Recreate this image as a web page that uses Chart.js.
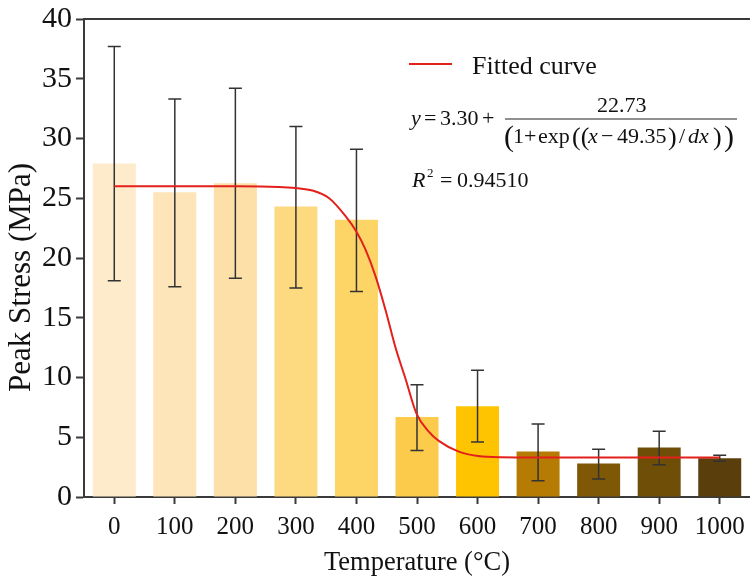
<!DOCTYPE html>
<html>
<head>
<meta charset="utf-8">
<script src="https://cdn.jsdelivr.net/npm/chart.js@4.4.1/dist/chart.umd.min.js"></script>
<style>
  html, body { margin: 0; padding: 0; background: #ffffff; overflow: hidden; }
  canvas { display: block; }
</style>
</head>
<body>
<canvas id="c" width="750" height="581" style="width:750px;height:581px"></canvas>
<script>
// ---- data ----
const categories = ['0', '100', '200', '300', '400', '500', '600', '700', '800', '900', '1000'];
const peakStress = [27.9, 25.5, 26.25, 24.3, 23.2, 6.7, 7.6, 3.8, 2.8, 4.15, 3.25];
const errUpper   = [37.7, 33.3, 34.2, 31.0, 29.1, 9.4, 10.6, 6.1, 4.0, 5.5, 3.5];
const errLower   = [18.1, 17.6, 18.3, 17.5, 17.2, 3.9, 4.6, 1.35, 1.5, 2.7, 3.0];
const barColors  = ['#FDEBCB', '#FDE5B9', '#FCE0A7', '#FDDA80', '#FDD466', '#FDCB4C',
                    '#FEC402', '#B67B02', '#7E5807', '#6F4E08', '#5A3F0C'];
// fitted curve, points (temperature °C, MPa)
const fitTemps  = [0, 100, 200, 272, 300, 327, 355, 382, 400, 415, 432, 448, 464, 481, 499, 519, 536, 569, 601, 639, 700, 800, 900, 1000];
const fitValues = [26.0, 26.0, 26.0, 25.95, 25.85, 25.65, 25.0, 23.5, 22.2, 20.7, 18.4, 15.65, 12.6, 9.9, 7.0, 5.5, 4.7, 3.8, 3.43, 3.32, 3.3, 3.3, 3.3, 3.3];
const yTicksMin = 0, yTicksMax = 40, yTickStep = 5;

const SERIF = '"Liberation Serif", "Times New Roman", serif';
const AXIS_COLOR = '#3a3a3a';

const fitPoints = fitTemps.map((t, i) => ({ x: t, y: fitValues[i] }));

const errorBarPlugin = {
  id: 'errorBars',
  afterDatasetDraw(chart, args) {
    if (args.index !== 0) return;
    const ctx = chart.ctx;
    const xs = chart.scales.x, ys = chart.scales.y;
    ctx.save();
    ctx.strokeStyle = '#333333';
    ctx.lineWidth = 1.5;
    const cap = 6.5;
    for (let i = 0; i < categories.length; i++) {
      const x = xs.getPixelForValue(i);
      const yH = ys.getPixelForValue(errUpper[i]);
      const yL = ys.getPixelForValue(errLower[i]);
      ctx.beginPath();
      ctx.moveTo(x, yH); ctx.lineTo(x, yL);
      ctx.moveTo(x - cap, yH); ctx.lineTo(x + cap, yH);
      ctx.moveTo(x - cap, yL); ctx.lineTo(x + cap, yL);
      ctx.stroke();
    }
    ctx.restore();
  }
};

const framePlugin = {
  id: 'frame',
  afterDraw(chart) {
    const ctx = chart.ctx, a = chart.chartArea;
    ctx.save();
    ctx.strokeStyle = AXIS_COLOR;
    ctx.lineWidth = 2;
    ctx.beginPath();
    ctx.moveTo(a.left, a.top);
    ctx.lineTo(a.right, a.top);
    ctx.stroke();
    ctx.restore();
  }
};

function txt(ctx, s, x, y, size, italic) {
  ctx.font = (italic ? 'italic ' : '') + size + 'px ' + SERIF;
  ctx.fillText(s, x, y);
}

const annotationPlugin = {
  id: 'legendEquation',
  afterDraw(chart) {
    const ctx = chart.ctx;
    ctx.save();
    // legend
    ctx.strokeStyle = '#E3201B';
    ctx.lineWidth = 2;
    ctx.beginPath(); ctx.moveTo(409, 64); ctx.lineTo(452, 64); ctx.stroke();
    ctx.fillStyle = '#111111';
    ctx.textBaseline = 'alphabetic';
    ctx.textAlign = 'left';
    txt(ctx, 'Fitted curve', 472, 74, 26, false);
    // equation
    const fs = 22;
    txt(ctx, 'y', 411, 125, fs, true);
    txt(ctx, '=', 424, 125, fs, false);
    txt(ctx, '3.30', 440, 125, fs, false);
    txt(ctx, '+', 482, 125, fs, false);
    txt(ctx, '22.73', 597, 112, fs, false);
    ctx.strokeStyle = '#222222';
    ctx.lineWidth = 1.2;
    ctx.beginPath(); ctx.moveTo(505, 119); ctx.lineTo(737, 119); ctx.stroke();
    const by = 143;
    txt(ctx, '(', 504, by + 3, 30, false);
    txt(ctx, '1', 513, by, fs, false);
    txt(ctx, '+', 524, by, fs, false);
    txt(ctx, 'exp', 538, by, fs, false);
    txt(ctx, '((', 572, by + 2, 26, false);
    txt(ctx, 'x', 588, by, fs, true);
    txt(ctx, '\u2212', 601, by, fs, false);
    txt(ctx, '49.35', 617, by, fs, false);
    txt(ctx, ')', 668, by + 2, 26, false);
    txt(ctx, '/', 679, by, fs, false);
    txt(ctx, 'dx', 688, by, fs, true);
    txt(ctx, ')', 713, by + 2, 26, false);
    txt(ctx, ')', 724, by + 3, 30, false);
    txt(ctx, 'R', 412, 187, fs, true);
    txt(ctx, '2', 427, 177, 13, false);
    txt(ctx, '=', 440, 187, fs, false);
    txt(ctx, '0.94510', 457, 187, fs, false);
    ctx.restore();
  }
};

new Chart(document.getElementById('c'), {
  type: 'bar',
  data: {
    labels: categories,
    datasets: [
      {
        type: 'bar',
        label: 'Peak Stress',
        data: peakStress,
        backgroundColor: barColors,
        borderWidth: 0,
        grouped: false,
        barPercentage: 0.71,
        categoryPercentage: 1.0,
        xAxisID: 'x',
        yAxisID: 'y',
        order: 2
      },
      {
        type: 'line',
        label: 'Fitted curve',
        data: fitPoints,
        borderColor: '#E3201B',
        borderWidth: 2,
        pointRadius: 0,
        fill: false,
        cubicInterpolationMode: 'monotone',
        xAxisID: 'xFit',
        yAxisID: 'y',
        order: 1
      }
    ]
  },
  options: {
    responsive: false,
    animation: false,
    devicePixelRatio: 1,
    layout: { padding: { top: 19, left: 0, right: 0, bottom: 0 } },
    plugins: {
      legend: { display: false },
      tooltip: { enabled: false },
      title: { display: false }
    },
    scales: {
      x: {
        type: 'category',
        offset: true,
        position: 'bottom',
        grid: { display: true, drawOnChartArea: false, offset: false, tickLength: 7, tickWidth: 2, tickColor: AXIS_COLOR },
        border: { display: true, color: AXIS_COLOR, width: 2 },
        ticks: { color: '#111', font: { family: SERIF, size: 25 }, padding: 8, maxRotation: 0, autoSkip: false },
        title: { display: true, text: 'Temperature (\u00B0C)', color: '#111', font: { family: SERIF, size: 26.5 }, padding: { top: 0, bottom: 2 } },
        afterFit(s) { s.height = 84; s.paddingLeft = 0; s.paddingRight = 0; }
      },
      xFit: {
        type: 'linear',
        display: false,
        offset: false,
        min: -50,
        max: 1050
      },
      y: {
        type: 'linear',
        min: yTicksMin,
        max: yTicksMax,
        ticks: { stepSize: yTickStep, color: '#111', font: { family: SERIF, size: 30 }, padding: 4 },
        grid: { display: true, drawOnChartArea: false, tickLength: 8, tickWidth: 2, tickColor: AXIS_COLOR },
        border: { display: true, color: AXIS_COLOR, width: 2 },
        title: { display: true, text: 'Peak Stress (MPa)     ', color: '#111', font: { family: SERIF, size: 31 }, padding: { top: 3, bottom: 0 } },
        afterFit(s) { s.width = 84; s.paddingTop = 0; s.paddingBottom = 0; }
      }
    }
  },
  plugins: [errorBarPlugin, framePlugin, annotationPlugin]
});
</script>
</body>
</html>
